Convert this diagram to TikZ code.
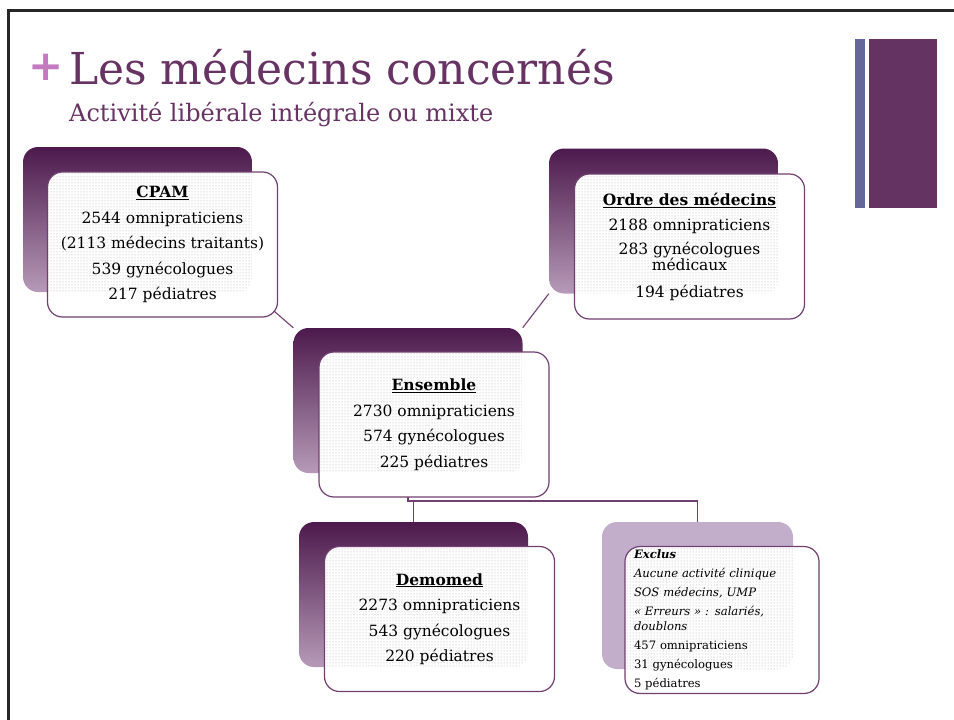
\documentclass[tikz,border=0pt]{standalone}
\usepackage{fontspec}
\setmainfont{DejaVu Serif}
\newfontfamily\plusfont{DejaVu Sans}
\usetikzlibrary{patterns}
\definecolor{plum}{RGB}{102,51,98}
\definecolor{pluslila}{RGB}{196,122,190}
\definecolor{bargray}{RGB}{102,102,153}
\definecolor{barplum}{RGB}{100,51,98}
\definecolor{linkplum}{RGB}{112,64,112}
\definecolor{topplum}{RGB}{76,26,76}
\definecolor{botmauve}{RGB}{182,154,184}
\definecolor{exclila}{RGB}{194,174,203}

\begin{document}
\begin{tikzpicture}[x=1pt,y=-1pt,
  backbox/.style={rounded corners=15pt,minimum width=229pt,minimum height=145pt,
    top color=topplum,bottom color=botmauve,inner sep=0pt},
  frontbox/.style={draw=linkplum,line width=1.2pt,fill=white,rounded corners=15pt,
    minimum width=230pt,minimum height=145pt,align=center,
    font=\fontsize{15.5}{25.5}\selectfont,
    path picture={\fill[pattern=dots,pattern color=gray!65,rounded corners=15pt]
      (#1.north west) rectangle (#1.south east);}},
  link/.style={draw=linkplum,line width=1.1pt}]
\useasboundingbox (0,0) rectangle (954,720);
\draw[line width=3pt,black!85] (954,10)--(8,10)--(8,720);
\fill[bargray] (855,39) rectangle (865,208);
\fill[barplum] (869,39) rectangle (937,208);

\node[anchor=base west,inner sep=0pt,text=plum,font=\fontsize{44}{44}\selectfont] (titre) at (69,84) {Les médecins concernés};
\node[inner sep=0pt,text=pluslila,font=\plusfont\bfseries\fontsize{42}{42}\selectfont] (plus) at (46,67) {+};
\node[anchor=base west,inner sep=0pt,text=plum,font=\fontsize{24}{24}\selectfont] (soustitre) at (69,121) {Activité libérale intégrale ou mixte};

% arriere-plans
\node[backbox] (cpamback) at (137.5,219.5) {};
\node[backbox] (ordback) at (663.5,221) {};
\node[backbox] (ensback) at (408,400.5) {};
\node[backbox] (demback) at (413.5,594.5) {};
\node[backbox,minimum width=191pt,minimum height=147pt,top color=exclila,bottom color=exclila] (excback) at (697.5,595.5) {};

\coordinate (split) at (ensback.south |- 0,501);
\draw[link] (cpamback.south east)--(ensback.north west);
\draw[link] (ordback.south west)--(ensback.north east);
\draw[link] (ensback.south)--(split)-|(excback.north);
\draw[link] (split)-|(demback.north);

% boites
\node[frontbox=cpamback] (cpam) at (162.5,244.5) {\underline{\textbf{CPAM}}\\2544 omnipraticiens\\(2113 médecins traitants)\\539 gynécologues\\217 pédiatres};
\node[frontbox=ordback] (ordre) at (689.5,246.5) {\underline{\textbf{Ordre des médecins}}\\2188 omnipraticiens\\[-2pt]283 gynécologues\\[-9pt]médicaux\\[1pt]194 pédiatres};
\node[frontbox=ensback] (ens) at (434,424.5) {\underline{\textbf{Ensemble}}\\2730 omnipraticiens\\574 gynécologues\\225 pédiatres};
\node[frontbox=demback] (demomed) at (439.5,619) {\underline{\textbf{Demomed}}\\2273 omnipraticiens\\543 gynécologues\\220 pédiatres};
\node[frontbox=excback,minimum width=194pt,minimum height=146pt,inner xsep=9pt,text width=176pt,align=left,font=\fontsize{11.6}{15}\selectfont] (exclus) at (722,620)
  {\textbf{\textit{Exclus}}\\[4pt]\textit{Aucune activité clinique}\\[4pt]\textit{SOS médecins, UMP}\\[4pt]\textit{« Erreurs » : salariés,}\\\textit{doublons}\\[4pt]457 omnipraticiens\\[4pt]31 gynécologues\\[4pt]5 pédiatres};
\end{tikzpicture}
\end{document}
